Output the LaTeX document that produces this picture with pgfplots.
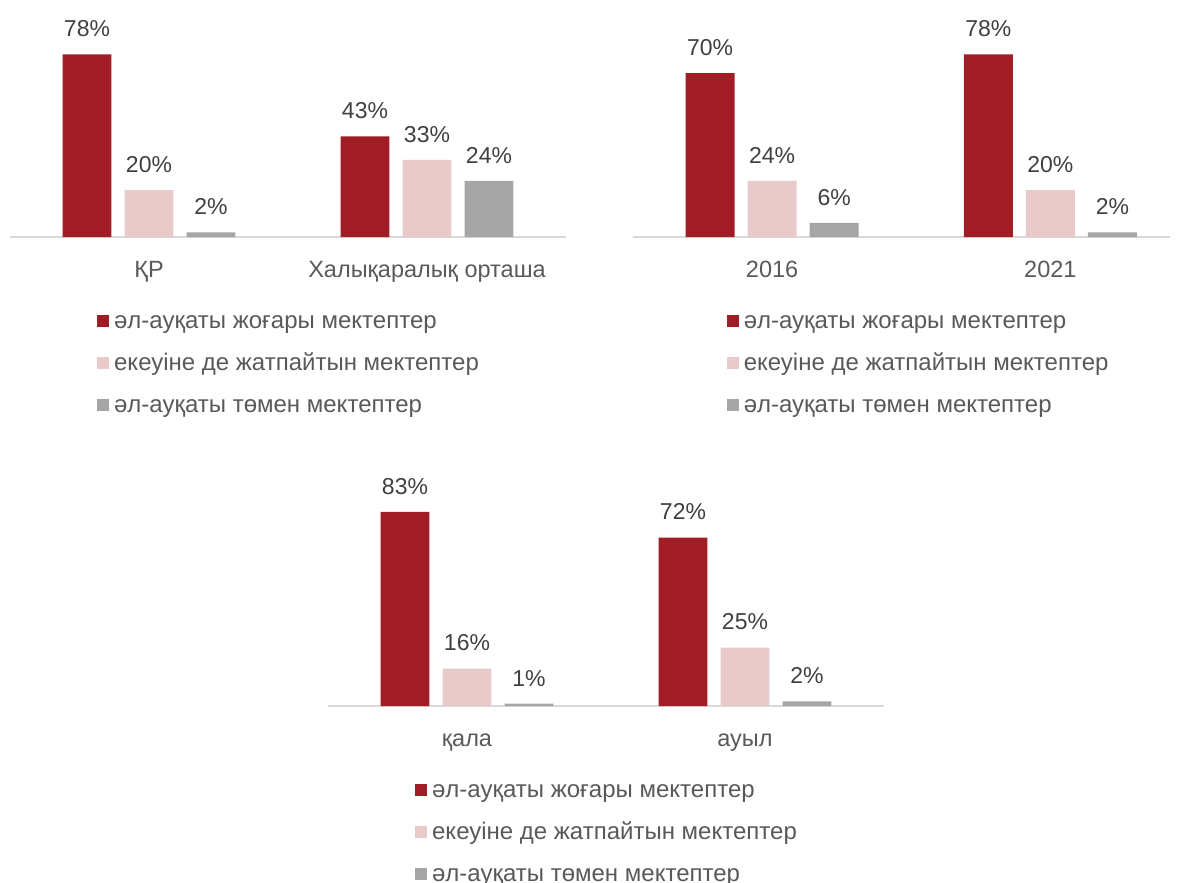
\documentclass[border=0pt]{standalone}
\usepackage{fontspec}
\setmainfont{Liberation Sans}
\usepackage{pgfplots}
\pgfplotsset{compat=1.18}

\definecolor{hi}{HTML}{A01D26}
\definecolor{mid}{HTML}{E8CACB}
\definecolor{lo}{HTML}{A5A5A5}
\definecolor{axgray}{HTML}{D9D9D9}
\definecolor{txt}{HTML}{595959}
\definecolor{lbl}{HTML}{404040}
\newcommand\ff{\fontsize{11.5}{13.8}\selectfont}
\newcommand\fl{\fontsize{12}{14.4}\selectfont}
\newcommand\ft{\fontsize{11.75}{14}\selectfont}

\pgfplotsset{
  panel/.style={
    scale only axis, width=278pt, height=117pt,
    xmin=-0.5, xmax=1.5, ymin=0, ymax=100,
    axis x line=bottom, axis y line=none,
    x axis line style={draw=axgray, line width=1pt, -},
    xtick={0,1}, major tick length=0pt,
    xticklabel style={font=\ft, text=txt, anchor=base, yshift=-20pt},
    ybar, bar width=0.176, clip=false,
    /pgf/number format/assume math mode=true,
    nodes near coords={\pgfmathprintnumber{\pgfplotspointmeta}\%},
    every node near coord/.append style={font=\ff, text=lbl, anchor=south, inner sep=0pt, yshift=8.5pt},
    legend cell align=left,
    legend style={at={(0.5,-0.299)}, anchor=north, draw=none, fill=none,
      font=\fl, text=txt, row sep=9.5pt, column sep=2.5pt,
      nodes={inner sep=0pt, text height=8.5pt, text depth=3pt}},
  },
  bars/.style={fill=#1, draw=none,
    legend image code/.code={\fill[##1] (0pt,-2pt) rectangle (6pt,4pt);}},
}

\begin{document}
\begin{tikzpicture}
\path[use as bounding box] (0,0) rectangle (590pt,-441.5pt);

% top left
\begin{axis}[panel, at={(5pt,-118.5pt)}, anchor=south west,
  xticklabels={ҚР, Халықаралық орташа}]
\addplot[bars=hi, bar shift=-0.223] coordinates {(0,78) (1,43)};
\addplot[bars=mid, bar shift=0] coordinates {(0,20) (1,33)};
\addplot[bars=lo, bar shift=0.223] coordinates {(0,2) (1,24)};
\addlegendentry{әл-ауқаты жоғары мектептер}
\addlegendentry{екеуіне де жатпайтын мектептер}
\addlegendentry{әл-ауқаты төмен мектептер}
\end{axis}

% top right
\begin{axis}[panel, at={(316.5pt,-118.5pt)}, anchor=south west,
  width=268.5pt, xmax=1.43, xticklabels={2016, 2021},
  legend style={at={(0.53,-0.299)}}]
\addplot[bars=hi, bar shift=-0.223] coordinates {(0,70) (1,78)};
\addplot[bars=mid, bar shift=0] coordinates {(0,24) (1,20)};
\addplot[bars=lo, bar shift=0.223] coordinates {(0,6) (1,2)};
\addlegendentry{әл-ауқаты жоғары мектептер}
\addlegendentry{екеуіне де жатпайтын мектептер}
\addlegendentry{әл-ауқаты төмен мектептер}
\end{axis}

% bottom
\begin{axis}[panel, at={(164pt,-353pt)}, anchor=south west,
  xticklabels={қала, ауыл}]
\addplot[bars=hi, bar shift=-0.223] coordinates {(0,83) (1,72)};
\addplot[bars=mid, bar shift=0] coordinates {(0,16) (1,25)};
\addplot[bars=lo, bar shift=0.223] coordinates {(0,1) (1,2)};
\addlegendentry{әл-ауқаты жоғары мектептер}
\addlegendentry{екеуіне де жатпайтын мектептер}
\addlegendentry{әл-ауқаты төмен мектептер}
\end{axis}
\end{tikzpicture}
\end{document}
